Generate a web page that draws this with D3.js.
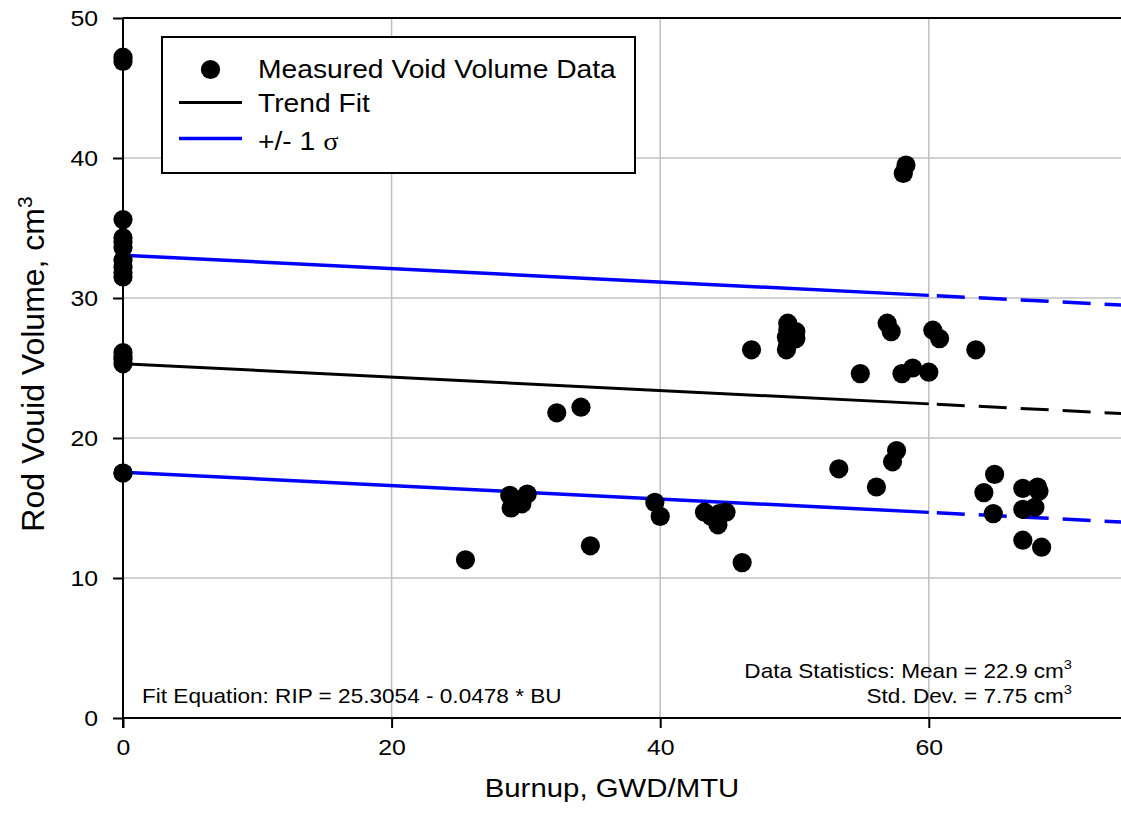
<!DOCTYPE html>
<html>
<head>
<meta charset="utf-8">
<script src="https://cdn.jsdelivr.net/npm/d3@7"></script>
<style>
  body { margin: 0; background: #fff; }
  text { font-family: "Liberation Sans", Arial, sans-serif; fill: #000; }
</style>
</head>
<body>
<div id="chart"></div>
<script>
// measured points (burnup GWD/MTU, void volume cm3)
const burnup = [
  0, 0, 0, 0, 0, 0, 0, 0, 0, 0, 0, 0, 0, 0, 0, 0,
  25.5, 28.8, 30.1, 28.9, 29.7, 29.3, 32.3, 34.1, 34.8,
  39.6, 40.0, 43.3, 43.8, 44.3, 44.4, 44.9, 46.1, 46.8,
  49.5, 49.5, 49.4, 49.5, 49.4, 50.1, 50.1,
  53.3, 54.9, 56.1, 56.9, 57.2, 57.3, 57.6, 58.0, 58.1, 58.3, 58.8,
  60.0, 60.3, 60.8, 63.5, 64.1, 64.8, 64.9,
  67.0, 67.0, 67.0, 67.9, 68.1, 68.2, 68.4
];
const voidVolume = [
  47.2, 46.9, 35.6, 34.3, 34.0, 33.6, 32.7, 32.2, 31.8, 31.5, 26.1, 25.8, 25.6, 25.3, 17.5, 17.5,
  11.3, 15.9, 16.0, 15.0, 15.3, 15.5, 21.8, 22.2, 12.3,
  15.4, 14.4, 14.7, 14.4, 13.8, 14.6, 14.7, 11.1, 26.3,
  28.2, 27.7, 27.2, 26.7, 26.3, 27.6, 27.1,
  17.8, 24.6, 16.5, 28.2, 27.6, 18.3, 19.1, 24.6, 38.9, 39.5, 25.0,
  24.7, 27.7, 27.1, 26.3, 16.1, 14.6, 17.4,
  16.4, 14.9, 12.7, 15.05, 16.5, 16.2, 12.2
];

// fit: RIP = 25.3054 - 0.0478 * BU, sigma = 7.75
const fitIntercept = 25.3054;
const fitSlope = -0.0478;
const sigma = 7.75;
const fitSolidRange = [0, 60];   // measured range, dashed beyond
const fitDashRange = [60, 75];

const xTicks = [0, 20, 40, 60];
const yTicks = [0, 10, 20, 30, 40, 50];

const W = 1121, H = 831;
const STRETCH = 1.13; // the original text is a bit wide
const svg = d3.select("#chart").append("svg")
  .attr("width", W).attr("height", H);

const x = d3.scaleLinear().domain([0, 75]).range([123, 123 + 75 * 13.43]);
const y = d3.scaleLinear().domain([0, 50]).range([718, 18]);

function wideText(parent, px, py, size, anchor) {
  return parent.append("text")
    .attr("transform", "translate(" + px + "," + py + ") scale(" + STRETCH + ",1)")
    .attr("text-anchor", anchor || "start")
    .style("font-size", size + "px");
}

// grid
svg.append("g").selectAll("line")
  .data(xTicks.filter(d => d > 0))
  .enter().append("line")
  .attr("x1", d => x(d)).attr("x2", d => x(d))
  .attr("y1", y(0)).attr("y2", y(50))
  .attr("stroke", "#c0c0c0").attr("stroke-width", 1.5);
svg.append("g").selectAll("line")
  .data(yTicks.filter(d => d > 0 && d < 50))
  .enter().append("line")
  .attr("x1", x(0)).attr("x2", x(75))
  .attr("y1", d => y(d)).attr("y2", d => y(d))
  .attr("stroke", "#c0c0c0").attr("stroke-width", 1.5);

// fit lines
const fit = function(off) {
  return function(b) { return fitIntercept + fitSlope * b + off; };
};
const lines = [
  { f: fit(0), color: "#000", w: 3 },
  { f: fit(sigma), color: "#0000ff", w: 3.5 },
  { f: fit(-sigma), color: "#0000ff", w: 3.5 }
];
lines.forEach(function(l) {
  svg.append("line")
    .attr("x1", x(fitSolidRange[0])).attr("y1", y(l.f(fitSolidRange[0])))
    .attr("x2", x(fitSolidRange[1])).attr("y2", y(l.f(fitSolidRange[1])))
    .attr("stroke", l.color).attr("stroke-width", l.w);
  svg.append("line")
    .attr("x1", x(fitDashRange[0])).attr("y1", y(l.f(fitDashRange[0])))
    .attr("x2", x(fitDashRange[1])).attr("y2", y(l.f(fitDashRange[1])))
    .attr("stroke", l.color).attr("stroke-width", l.w)
    .attr("stroke-dasharray", "28,14").attr("stroke-dashoffset", 34);
});

// points
svg.append("g").selectAll("circle")
  .data(burnup.map((b, i) => [b, voidVolume[i]]))
  .enter().append("circle")
  .attr("cx", d => x(d[0])).attr("cy", d => y(d[1]))
  .attr("r", 9.6).attr("fill", "#000");

// axes
const xAxis = d3.axisBottom(x).tickValues(xTicks).tickSize(10).tickPadding(11).tickFormat(d3.format("d"));
const gx = svg.append("g").attr("transform", "translate(0," + y(0) + ")").call(xAxis);
const yAxis = d3.axisLeft(y).tickValues(yTicks).tickSize(10).tickPadding(12).tickFormat(d3.format("d"));
const gy = svg.append("g").attr("transform", "translate(" + x(0) + ",0)").call(yAxis);
[gx, gy].forEach(function(g) {
  g.select(".domain").remove();
  g.selectAll(".tick line").attr("stroke", "#000").attr("stroke-width", 2);
  g.selectAll(".tick text").attr("fill", "#000")
    .attr("transform", "scale(" + STRETCH + ",1)")
    .style("font-size", "22px").style("font-family", "Liberation Sans, Arial, sans-serif");
});
svg.append("line").attr("x1", x(0)).attr("x2", x(75)).attr("y1", y(0)).attr("y2", y(0))
  .attr("stroke", "#000").attr("stroke-width", 2);
svg.append("line").attr("x1", x(0)).attr("x2", x(75)).attr("y1", y(50)).attr("y2", y(50))
  .attr("stroke", "#000").attr("stroke-width", 2);
svg.append("line").attr("x1", x(0)).attr("x2", x(0)).attr("y1", y(0) + 10).attr("y2", y(50))
  .attr("stroke", "#000").attr("stroke-width", 2);

// axis titles
wideText(svg, 612, 797, 26, "middle").text("Burnup, GWD/MTU");
const yt = svg.append("text")
  .attr("transform", "translate(44,364) rotate(-90)")
  .attr("text-anchor", "middle").style("font-size", "32px");
yt.append("tspan").text("Rod Vouid Volume, cm");
yt.append("tspan").attr("dy", -12).style("font-size", "21px").text("3");

// legend
const lg = svg.append("g");
lg.append("rect").attr("x", 162).attr("y", 37).attr("width", 473).attr("height", 136)
  .attr("fill", "#fff").attr("stroke", "#000").attr("stroke-width", 2);
lg.append("circle").attr("cx", 210.5).attr("cy", 69.5).attr("r", 9.6).attr("fill", "#000");
lg.append("line").attr("x1", 179).attr("x2", 242).attr("y1", 102.5).attr("y2", 102.5)
  .attr("stroke", "#000").attr("stroke-width", 3);
lg.append("line").attr("x1", 179).attr("x2", 242).attr("y1", 138.5).attr("y2", 138.5)
  .attr("stroke", "#0000ff").attr("stroke-width", 3.5);
wideText(lg, 258, 78, 25).text("Measured Void Volume Data");
wideText(lg, 258, 112, 25).text("Trend Fit");
const sg = wideText(lg, 258, 150, 25);
sg.append("tspan").text("+/- 1 ");
sg.append("tspan").style("font-family", "Liberation Serif, Times New Roman, serif").text("σ");

// annotations
wideText(svg, 142, 703, 20).text("Fit Equation: RIP = 25.3054 - 0.0478 * BU");
const s1 = wideText(svg, 1072, 678, 20, "end");
s1.append("tspan").text("Data Statistics: Mean = 22.9 cm");
s1.append("tspan").attr("dy", -9).style("font-size", "13px").text("3");
const s2 = wideText(svg, 1072, 703, 20, "end");
s2.append("tspan").text("Std. Dev. = 7.75 cm");
s2.append("tspan").attr("dy", -9).style("font-size", "13px").text("3");
</script>
</body>
</html>
